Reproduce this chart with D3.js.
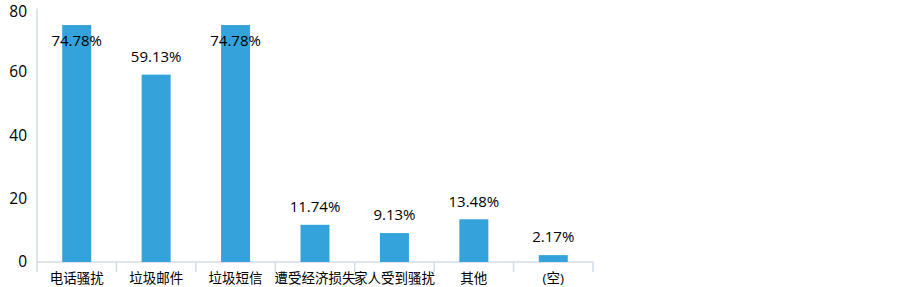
<!DOCTYPE html>
<html>
<head>
<meta charset="utf-8">
<script src="https://cdn.jsdelivr.net/npm/d3@7"></script>
<style>
  body { margin: 0; background: #fff; }
  svg text { font-family: "Open Sans", "Noto Sans CJK SC", sans-serif; }
</style>
</head>
<body>
<div id="container"></div>
<script>
var width = 903;
var height = 287;

var categories = ["电话骚扰", "垃圾邮件", "垃圾短信", "遭受经济损失", "家人受到骚扰", "其他", "(空)"];
var values = [74.78, 59.13, 74.78, 11.74, 9.13, 13.48, 2.17];
var yTicks = [0, 20, 40, 60, 80];

var margin = { left: 37, right: 310, top: 8.5, bottom: 25 };

var svg = d3.select("#container").append("svg")
    .attr("width", width)
    .attr("height", height);

var x = d3.scaleBand()
    .domain(categories)
    .range([margin.left, 593])
    .paddingInner(0.635)
    .paddingOuter(0.3175);

var y = d3.scaleLinear()
    .domain([0, 80])
    .range([262, margin.top]);

var axisColor = "#d3dde8";

// y axis line
svg.append("line")
    .attr("x1", margin.left).attr("x2", margin.left)
    .attr("y1", y(80)).attr("y2", y(0))
    .attr("stroke", axisColor).attr("stroke-width", 1.5);

// top label sits a bit low so it stays inside the page
svg.selectAll(".ytick").data(yTicks).enter().append("text")
    .attr("class", "ytick")
    .attr("x", 27)
    .attr("y", function(d) { return Math.max(y(d), 11.5); })
    .attr("dy", "0.35em")
    .attr("text-anchor", "end")
    .attr("font-size", 15.5)
    .attr("fill", "#000")
    .text(function(d) { return d; });

// x axis line and category separators
svg.append("line")
    .attr("x1", margin.left).attr("x2", 593)
    .attr("y1", y(0)).attr("y2", y(0))
    .attr("stroke", axisColor).attr("stroke-width", 1.5);

var step = x.step();
var sepX = d3.range(categories.length + 1).map(function(i) { return margin.left + i * step; });
svg.selectAll(".sep").data(sepX).enter().append("line")
    .attr("x1", function(d) { return d; }).attr("x2", function(d) { return d; })
    .attr("y1", y(0)).attr("y2", y(0) + 10)
    .attr("stroke", axisColor).attr("stroke-width", 1.5);

svg.selectAll(".bar").data(values).enter().append("rect")
    .attr("class", "bar")
    .attr("x", function(d, i) { return x(categories[i]); })
    .attr("width", x.bandwidth())
    .attr("y", function(d) { return y(d); })
    .attr("height", function(d) { return y(0) - y(d); })
    .attr("fill", "#34a3db");

// value labels, pushed inside the bar when they would leave the plot
svg.selectAll(".lbl").data(values).enter().append("text")
    .attr("class", "lbl")
    .attr("x", function(d, i) { return x(categories[i]) + x.bandwidth() / 2; })
    .attr("y", function(d) {
        var yy = y(d) - 18;
        if (yy < 20) yy = y(d) + 16;
        return yy;
    })
    .attr("dy", "0.35em")
    .attr("text-anchor", "middle")
    .attr("font-size", 15)
    .attr("fill", "#000")
    .text(function(d) { return d.toFixed(2) + "%"; });

svg.selectAll(".cat").data(categories).enter().append("text")
    .attr("class", "cat")
    .attr("x", function(d) { return x(d) + x.bandwidth() / 2; })
    .attr("y", 278)
    .attr("dy", "0.35em")
    .attr("text-anchor", "middle")
    .attr("font-size", 13.5)
    .attr("font-family", "'Noto Sans CJK SC', sans-serif")
    .attr("fill", "#000")
    .text(function(d) { return d; });
</script>
</body>
</html>
